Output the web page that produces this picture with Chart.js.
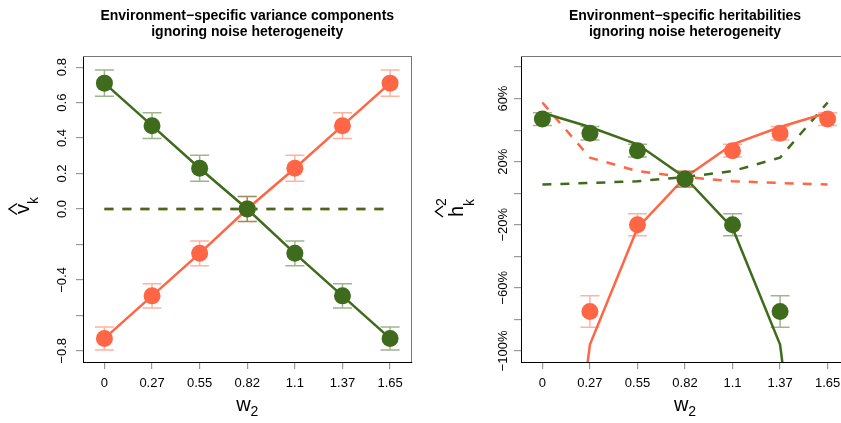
<!DOCTYPE html>
<html>
<head>
<meta charset="utf-8">
<title>Environment-specific estimates ignoring noise heterogeneity</title>
<script src="https://cdn.jsdelivr.net/npm/chart.js@4.4.1/dist/chart.umd.min.js"></script>
<style>
  html, body { margin: 0; padding: 0; background: #fff; overflow: hidden; }
  #wrap { position: relative; width: 841px; height: 423px; overflow: hidden; }
  #wrap canvas { position: absolute; top: 0; }
  #vc { left: 0; }
  #h2 { left: 420px; }
</style>
</head>
<body>
<div id="wrap">
  <canvas id="vc" width="420" height="423"></canvas>
  <canvas id="h2" width="440" height="423"></canvas>
</div>
<script>
/* w2 grid, shared by both panels (plotted at positions 0..6) */
const xTickLabels = ['0', '0.27', '0.55', '0.82', '1.1', '1.37', '1.65'];
const xPos = [0, 1, 2, 3, 4, 5, 6];

/* variance components */
const vcGreen      = [0.71, 0.47, 0.23, 0.00, -0.25, -0.49, -0.73];
const vcOrange     = [-0.73, -0.49, -0.25, 0.00, 0.23, 0.47, 0.71];
const vcGreenErr   = [0.074, 0.073, 0.073, 0.070, 0.070, 0.068, 0.065];
const vcOrangeErr  = [0.065, 0.068, 0.070, 0.070, 0.073, 0.073, 0.074];
const vcGreenDash  = [0, 0, 0, 0, 0, 0, 0];
const vcOrangeDash = [0, 0, 0, 0, 0, 0, 0];
const vcTicks      = [-0.8, -0.6, -0.4, -0.2, 0, 0.2, 0.4, 0.6, 0.8];
const vcTickLabels = ['\u22120.8', '', '\u22120.4', '', '0.0', '0.2', '0.4', '0.6', '0.8'];

/* heritabilities, in % */
const hGreen       = [47, 38, 27, 9, -20, -75, -250];
const hOrange      = [-250, -75, -20, 9, 27, 38, 47];
const hGreenErr    = [4, 4.3, 4, 5, 7, 10, 15];
const hOrangeErr   = [15, 10, 7, 5, 4, 4.3, 4];
const hGreenSolid  = [51, 42, 31, 10, -22, -96, -330];
const hOrangeSolid = [-330, -96, -22, 10, 31, 42, 51];
const hGreenDash   = [5.5, 6.5, 7.6, 10.3, 14, 22.6, 57.5];
const hOrangeDash  = [57.5, 22.6, 14, 10.3, 7.6, 6.5, 5.5];
const hTicks       = [-100, -80, -60, -40, -20, 0, 20, 40, 60, 80];
const hTickLabels  = ['\u2212100%', '', '\u221260%', '', '\u221220%', '', '20%', '', '60%', ''];

(function () {
  'use strict';

  const FONT = '"Liberation Sans", Arial, Helvetica, sans-serif';
  const colors = {
    green:     '#3e6b1c',
    orange:    '#ff6646',
    greenBar:  'rgba(62, 107, 28, 0.5)',
    orangeBar: 'rgba(255, 102, 70, 0.5)',
    tick:      '#999999',
    boxSoft:   '#777777'
  };

  Chart.defaults.font.family = FONT;
  Chart.defaults.color = '#000';

  const pts = (arr) => arr.map((y, i) => ({ x: xPos[i], y: y }));

  function drawHat(ctx, uc, base, apex, half) {
    ctx.beginPath();
    ctx.moveTo(uc - half, base);
    ctx.lineTo(uc, apex);
    ctx.lineTo(uc + half, base);
    ctx.stroke();
  }

  /* error bars, box edges, rotated tick labels, titles */
  function overlay(p) {
    return {
      id: 'overlay',
      beforeDatasetDraw(chart, args) {
        if (args.index !== 1) return;
        const { ctx, chartArea: a, scales } = chart;
        ctx.save();
        ctx.beginPath();
        ctx.rect(a.left, a.top, a.right - a.left, a.bottom - a.top);
        ctx.clip();
        ctx.lineWidth = 1.5;
        [[p.orange, p.orangeErr, colors.orangeBar], [p.green, p.greenErr, colors.greenBar]].forEach(function (s) {
          ctx.strokeStyle = s[2];
          s[0].forEach(function (v, i) {
            const x = scales.x.getPixelForValue(xPos[i]);
            const y1 = scales.y.getPixelForValue(v + s[1][i]);
            const y2 = scales.y.getPixelForValue(v - s[1][i]);
            ctx.beginPath();
            ctx.moveTo(x, y1); ctx.lineTo(x, y2);
            ctx.moveTo(x - 9.5, y1); ctx.lineTo(x + 9.5, y1);
            ctx.moveTo(x - 9.5, y2); ctx.lineTo(x + 9.5, y2);
            ctx.stroke();
          });
        });
        ctx.restore();
      },
      afterDraw(chart) {
        const { ctx, chartArea: a, scales } = chart;
        ctx.save();

        ctx.strokeStyle = colors.boxSoft;
        ctx.lineWidth = 1;
        ctx.beginPath();
        ctx.moveTo(a.left, Math.round(a.top) + 0.5);
        ctx.lineTo(a.right, Math.round(a.top) + 0.5);
        ctx.moveTo(Math.round(a.right) - 0.5, a.top);
        ctx.lineTo(Math.round(a.right) - 0.5, a.bottom);
        ctx.stroke();

        ctx.fillStyle = '#000';
        ctx.textBaseline = 'alphabetic';
        ctx.textAlign = 'center';
        ctx.font = '13px ' + FONT;
        p.yTicks.forEach(function (v, i) {
          const t = p.yTickLabels[i];
          if (!t) return;
          ctx.save();
          ctx.translate(a.left - p.labelGap, scales.y.getPixelForValue(v));
          ctx.rotate(-Math.PI / 2);
          ctx.fillText(t, 0, 0);
          ctx.restore();
        });

        const cx = (a.left + a.right) / 2;
        ctx.font = 'bold 14px ' + FONT;
        p.title.forEach(function (line, i) { ctx.fillText(line, cx, 20 + i * 16); });

        // x axis title: w with subscript 2
        ctx.textAlign = 'left';
        ctx.font = '20px ' + FONT;
        const ww = ctx.measureText('w').width;
        ctx.font = '14px ' + FONT;
        const w2 = ctx.measureText('2').width;
        const x0 = cx - (ww + w2) / 2;
        ctx.font = '20px ' + FONT;
        ctx.fillText('w', x0, 411);
        ctx.font = '14px ' + FONT;
        ctx.fillText('2', x0 + ww, 416);

        ctx.save();
        ctx.translate(p.yTitle.x, (a.top + a.bottom) / 2);
        ctx.rotate(-Math.PI / 2);
        ctx.strokeStyle = '#000';
        ctx.lineWidth = 1.4;
        p.yTitle.draw(ctx);
        ctx.restore();

        ctx.restore();
      }
    };
  }

  function panel(id, p) {
    const lineSet = (data, color, dash) => ({
      data: pts(data), borderColor: color, borderWidth: 2.5, borderDash: dash || [],
      pointRadius: 0, tension: 0, fill: false, clip: 0
    });
    const pointSet = (data, color) => ({
      data: pts(data), showLine: false, pointRadius: 8.5,
      pointBackgroundColor: color, pointBorderWidth: 0, borderColor: color
    });

    return new Chart(document.getElementById(id), {
      type: 'line',
      data: {
        datasets: [
          pointSet(p.green, colors.green),
          pointSet(p.orange, colors.orange),
          lineSet(p.greenSolid, colors.green),
          lineSet(p.orangeSolid, colors.orange),
          lineSet(p.greenDash, colors.green, [9, 9]),
          lineSet(p.orangeDash, colors.orange, [9, 9])
        ]
      },
      options: {
        responsive: false,
        animation: false,
        devicePixelRatio: 1,
        events: [],
        layout: { padding: { top: 56, right: p.padRight, left: 0, bottom: 0 } },
        plugins: { legend: { display: false }, tooltip: { enabled: false } },
        scales: {
          x: {
            type: 'linear', min: -0.45, max: 6.45,
            afterBuildTicks: (s) => { s.ticks = xPos.map((v) => ({ value: v })); },
            afterFit: (s) => { s.height = 61; },
            ticks: {
              callback: (v) => xTickLabels[v], font: { size: 13 }, color: '#000',
              padding: 7, maxRotation: 0, autoSkip: false
            },
            grid: { drawOnChartArea: false, tickLength: 7, color: colors.tick, lineWidth: 1.2 },
            border: { color: '#000', width: 1 }
          },
          y: {
            type: 'linear', min: p.yMin, max: p.yMax,
            afterBuildTicks: (s) => { s.ticks = p.yTicks.map((v) => ({ value: v })); },
            afterFit: (s) => { s.width = p.axisWidth; },
            ticks: { display: false },
            grid: { drawOnChartArea: false, tickLength: 7, color: colors.tick, lineWidth: 1.2 },
            border: { color: '#000', width: 1 }
          }
        }
      },
      plugins: [overlay(p)]
    });
  }

  panel('vc', {
    green: vcGreen, orange: vcOrange, greenErr: vcGreenErr, orangeErr: vcOrangeErr,
    greenSolid: vcGreen, orangeSolid: vcOrange, greenDash: vcGreenDash, orangeDash: vcOrangeDash,
    yTicks: vcTicks, yTickLabels: vcTickLabels, yMin: -0.863, yMax: 0.863,
    axisWidth: 83, padRight: 8, labelGap: 17.5,
    title: ['Environment\u2212specific variance components', 'ignoring noise heterogeneity'],
    yTitle: {
      x: 29,
      draw(ctx) {
        ctx.font = '20px ' + FONT;
        ctx.fillText('v', -5, 0);
        ctx.font = '14px ' + FONT;
        ctx.fillText('k', 5, 8.5);
        drawHat(ctx, 0, -12, -20, 5.5);
      }
    }
  });

  panel('h2', {
    green: hGreen, orange: hOrange, greenErr: hGreenErr, orangeErr: hOrangeErr,
    greenSolid: hGreenSolid, orangeSolid: hOrangeSolid, greenDash: hGreenDash, orangeDash: hOrangeDash,
    yTicks: hTicks, yTickLabels: hTickLabels, yMin: -107, yMax: 87,
    axisWidth: 101, padRight: 11, labelGap: 14.5,
    title: ['Environment\u2212specific heritabilities', 'ignoring noise heterogeneity'],
    yTitle: {
      x: 43,
      draw(ctx) {
        ctx.font = '20px ' + FONT;
        ctx.fillText('h', -8, 0);
        ctx.font = '14px ' + FONT;
        ctx.fillText('2', 3, -17);
        ctx.fillText('k', 3, 10.5);
        drawHat(ctx, -2.5, -20, -27.5, 5.5);
      }
    }
  });
})();
</script>
</body>
</html>
